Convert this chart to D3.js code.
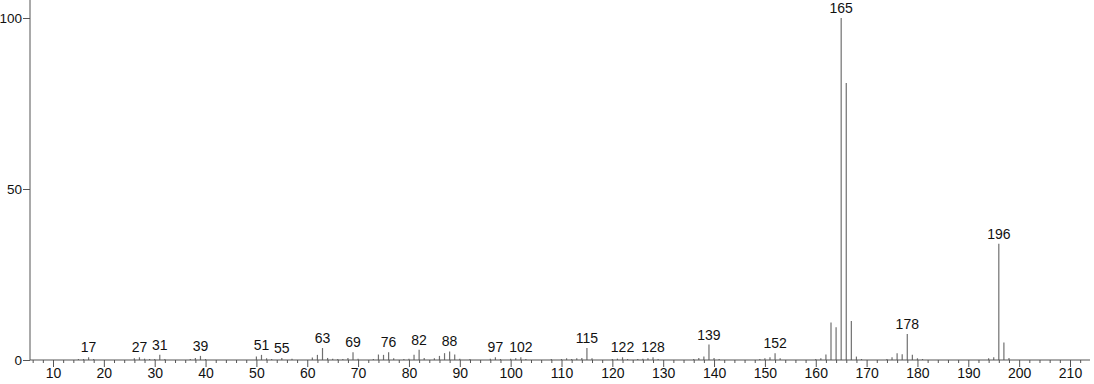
<!DOCTYPE html>
<html>
<head>
<meta charset="utf-8">
<script src="https://cdn.jsdelivr.net/npm/d3@7"></script>
<style>
  body { margin: 0; background: #fff; }
  svg text { font-family: "Liberation Sans", Arial, sans-serif; }
</style>
</head>
<body>
<script>
// m/z values and relative intensities (%)
var mz = [15, 16, 17, 18, 26, 27, 28, 29, 30, 31, 32, 37, 38, 39, 40,
  50, 51, 52, 53, 55, 57, 61, 62, 63, 64, 65, 66, 67, 68, 69, 70,
  73, 74, 75, 76, 77, 79, 80, 81, 82, 83, 85, 86, 87, 88, 89, 90, 92,
  96, 97, 98, 100, 101, 102, 103, 108, 110, 111, 112, 113, 114, 115, 116,
  120, 121, 122, 123, 125, 126, 127, 128, 129, 136, 137, 138, 139, 140, 141,
  149, 150, 151, 152, 153, 160, 161, 162, 163, 164, 165, 166, 167, 168, 169,
  174, 175, 176, 177, 178, 179, 180, 181, 194, 195, 196, 197, 198];
var intensity = [0.3, 0.3, 0.8, 0.3, 0.5, 0.8, 0.4, 0.3, 0.3, 1.5, 0.3, 0.3, 0.6, 1.2, 0.3,
  1.0, 1.5, 0.5, 0.3, 0.6, 0.4, 0.7, 1.5, 3.5, 0.6, 0.4, 0.3, 0.3, 0.6, 2.3, 0.4,
  0.3, 1.6, 1.5, 2.3, 0.5, 0.3, 0.4, 1.5, 3.0, 0.6, 0.5, 1.2, 2.0, 2.5, 1.6, 0.4, 0.3,
  0.4, 0.8, 0.3, 0.4, 0.5, 0.8, 0.3, 0.3, 0.3, 0.5, 0.3, 0.5, 0.6, 3.5, 0.5,
  0.3, 0.4, 0.8, 0.3, 0.3, 0.4, 0.5, 0.8, 0.3, 0.3, 0.6, 1.0, 4.5, 0.6, 0.3,
  0.3, 0.5, 0.8, 2.0, 0.5, 0.3, 0.5, 1.6, 11.0, 9.6, 100, 81, 11.4, 1.0, 0.3,
  0.3, 0.8, 2.0, 1.7, 7.6, 1.5, 0.5, 0.3, 0.5, 0.8, 34, 5.1, 0.6];
// peaks that carry an m/z label
var labelled = [17, 27, 31, 39, 51, 55, 63, 69, 76, 82, 88, 97, 102, 115, 122, 128,
  139, 152, 165, 178, 196];
var xTicks = d3.range(10, 211, 10);
var xMinor = d3.range(6, 214, 2).filter(function(v){ return v % 10 != 0; });
var yTicks = [0, 50, 100];

var width = 1094, height = 384;
var x0 = 30, x1 = 1090, yBase = 360;

var x = d3.scaleLinear().domain([10, 210]).range([53, 1070]);
var y = d3.scaleLinear().domain([0, 100]).range([yBase, 18]);

var data = mz.map(function(m, i){ return {mz: m, v: intensity[i]}; });

var svg = d3.select("body").append("svg")
  .attr("width", width)
  .attr("height", height);

// peaks
svg.selectAll("line.peak")
  .data(data)
  .enter()
  .append("line")
  .attr("class", "peak")
  .attr("x1", function(d){ return x(d.mz); })
  .attr("x2", function(d){ return x(d.mz); })
  .attr("y1", yBase)
  .attr("y2", function(d){ return y(d.v); })
  .attr("stroke", "#707070")
  .attr("stroke-width", 1.2);

// peak labels
svg.selectAll("text.lab")
  .data(data.filter(function(d){ return labelled.indexOf(d.mz) >= 0; }))
  .enter()
  .append("text")
  .attr("class", "lab")
  .attr("x", function(d){ return x(d.mz); })
  .attr("y", function(d){ return y(d.v) - 5; })
  .attr("text-anchor", "middle")
  .attr("font-size", 14)
  .attr("fill", "#111")
  .text(function(d){ return d.mz; });

// x axis: minor ticks
var xMinorAxis = d3.axisBottom(x).tickValues(xMinor).tickSize(3).tickFormat("").tickSizeOuter(0);
svg.append("g")
  .attr("transform", "translate(0," + yBase + ")")
  .call(xMinorAxis)
  .call(function(g){ g.select(".domain").remove(); g.selectAll("line").attr("stroke", "#555"); });

// x axis: major ticks
var xAxis = d3.axisBottom(x).tickValues(xTicks).tickSize(7).tickPadding(1).tickSizeOuter(0);
svg.append("g")
  .attr("transform", "translate(0," + yBase + ")")
  .call(xAxis)
  .call(function(g){
    g.select(".domain").remove();
    g.selectAll("line").attr("stroke", "#555");
    g.selectAll("text").attr("font-size", 14).attr("fill", "#111")
      .attr("font-family", "Liberation Sans, Arial, sans-serif");
  });

svg.append("line")
  .attr("x1", x0).attr("x2", x1)
  .attr("y1", yBase).attr("y2", yBase)
  .attr("stroke", "#555");

// y axis
var yAxis = d3.axisLeft(y).tickValues(yTicks).tickSize(7).tickPadding(1).tickSizeOuter(0);
svg.append("g")
  .attr("transform", "translate(" + x0 + ",0)")
  .call(yAxis)
  .call(function(g){
    g.select(".domain").remove();
    g.selectAll("line").attr("stroke", "#555");
    g.selectAll("text").attr("font-size", 13.5).attr("fill", "#111")
      .attr("font-family", "Liberation Sans, Arial, sans-serif");
  });

svg.append("line")
  .attr("x1", x0).attr("x2", x0)
  .attr("y1", 0).attr("y2", yBase)
  .attr("stroke", "#555");
</script>
</body>
</html>
